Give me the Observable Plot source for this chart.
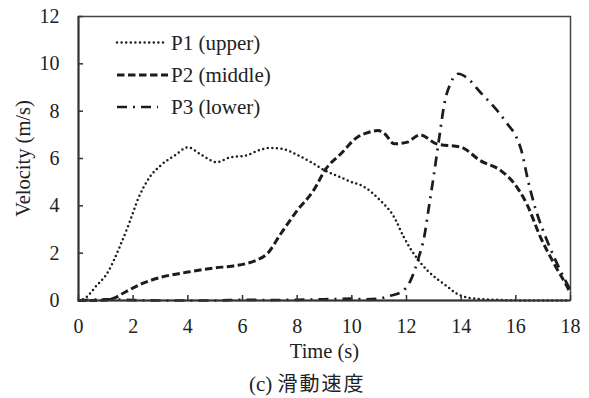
<!DOCTYPE html>
<html>
<head>
<meta charset="utf-8">
<style>
  html, body { margin: 0; padding: 0; background: #fff; }
  #wrap { position: relative; width: 589px; height: 398px; color: #222; overflow: hidden; }
  #legend { position: absolute; left: 0; top: 0; pointer-events: none; }
  #caption { position: absolute; left: 249px; top: 369px; font-size: 20px; line-height: 28px; white-space: nowrap; color: #222; }
</style>
<script src="https://cdn.jsdelivr.net/npm/d3@7"></script>
<script src="https://cdn.jsdelivr.net/npm/@observablehq/plot@0.6"></script>
</head>
<body>
<div id="wrap">
  <div id="caption"><span style="font-family:'Liberation Serif';font-size:21px">(c) </span><span style="font-family:'Noto Sans CJK JP';font-size:20px;letter-spacing:2px">滑動速度</span></div>
  <svg id="legend" width="589" height="130" xmlns="http://www.w3.org/2000/svg"></svg>
</div>
<script>
// ---- data ----
const seriesNames = ["P1 (upper)", "P2 (middle)", "P3 (lower)"];

const p1Time = [0, 0.3, 0.6, 1.1, 1.5, 1.85, 2.2, 2.6, 3.05, 3.55, 4.0, 4.5, 5.05, 5.55, 6.1, 6.6, 7.0, 7.5, 8.0, 8.5, 9.0, 9.5, 10.0, 10.35, 11.05, 11.55, 11.9, 12.27, 12.76, 13.37, 13.98, 14.6, 15.5, 16.5, 18];
const p1Vel  = [0, 0.15, 0.55, 1.25, 2.25, 3.25, 4.35, 5.2, 5.75, 6.15, 6.47, 6.15, 5.85, 6.05, 6.12, 6.35, 6.45, 6.4, 6.15, 5.85, 5.5, 5.25, 5.0, 4.86, 4.22, 3.52, 2.68, 1.97, 1.27, 0.7, 0.21, 0.07, 0.02, 0, 0];

const p2Time = [0, 0.5, 1.0, 1.3, 1.7, 2.3, 3.05, 4.0, 5.0, 5.6, 6.1, 6.5, 6.9, 7.4, 8.0, 8.6, 9.05, 9.6, 10.2, 10.6, 10.95, 11.2, 11.55, 12.0, 12.5, 13.1, 14.0, 14.7, 15.45, 15.95, 16.4, 16.9, 17.4, 17.95, 18];
const p2Vel  = [0, 0, 0.02, 0.1, 0.35, 0.7, 0.99, 1.2, 1.38, 1.45, 1.55, 1.7, 1.97, 2.82, 3.8, 4.65, 5.56, 6.2, 6.9, 7.1, 7.18, 7.05, 6.62, 6.68, 7.0, 6.62, 6.48, 5.91, 5.49, 4.93, 4.08, 2.68, 1.55, 0.42, 0.3];

const p3Time = [0, 1, 2, 3, 4, 5, 6, 7, 8, 9, 10, 10.5, 11.0, 11.4, 11.8, 12.15, 12.45, 12.65, 12.8, 13.0, 13.2, 13.4, 13.6, 13.9, 14.2, 14.7, 15.3, 15.7, 16.0, 16.2, 16.45, 16.7, 17.05, 17.4, 17.75, 18];
const p3Vel  = [0, 0.05, 0.02, 0, 0, 0, 0.03, 0.02, 0.03, 0.05, 0.08, 0.05, 0.08, 0.2, 0.35, 0.85, 1.83, 2.7, 3.8, 5.3, 6.9, 8.4, 9.15, 9.58, 9.42, 8.8, 8.05, 7.45, 6.95, 6.35, 5.05, 3.95, 2.8, 1.83, 0.99, 0.42];

const xTicks = [0, 2, 4, 6, 8, 10, 12, 14, 16, 18];
const yTicks = [0, 2, 4, 6, 8, 10, 12];
const xLabel = "Time (s)";
const yLabel = "Velocity (m/s)";

// ---- build tables ----
const toRows = (ts, vs) => ts.map((t, i) => ({t, v: vs[i]}));
const p1 = toRows(p1Time, p1Vel);
const p2 = toRows(p2Time, p2Vel);
const p3 = toRows(p3Time, p3Vel);

const ink = "#1c1c1c";
const serif = "Liberation Serif";
const styles = [
  {strokeWidth: 2.5, strokeDasharray: "0 4.6", strokeLinecap: "round"},
  {strokeWidth: 3, strokeDasharray: "7.5 3.5", strokeLinecap: "butt"},
  {strokeWidth: 2.7, strokeDasharray: "10 6 2 6", strokeLinecap: "butt"}
];

const chart = Plot.plot({
  width: 589,
  height: 365,
  marginLeft: 78,
  marginRight: 19,
  marginTop: 16,
  marginBottom: 65,
  style: {background: "#fff"},
  x: {domain: [0, 18]},
  y: {domain: [0, 12]},
  marks: [
    Plot.frame({stroke: "#444", strokeWidth: 1.5}),
    Plot.line(p1, {x: "t", y: "v", stroke: ink, curve: "monotone-x", ...styles[0]}),
    Plot.line(p2, {x: "t", y: "v", stroke: ink, curve: "monotone-x", ...styles[1]}),
    Plot.line(p3, {x: "t", y: "v", stroke: ink, curve: "monotone-x", ...styles[2]}),
    Plot.ruleX([0], {stroke: "#333", strokeWidth: 2}),
    Plot.ruleY([0], {stroke: "#333", strokeWidth: 2}),
    Plot.axisX({ticks: xTicks, tickSize: -5, tickPadding: 23, stroke: "#333", strokeWidth: 1.5,
                fontFamily: serif, fontSize: 20, fill: "#222", label: null}),
    Plot.axisX({ticks: [], label: xLabel, labelAnchor: "center", labelArrow: "none", labelOffset: 57,
                fontFamily: serif, fontSize: 20.5, fill: "#222"}),
    Plot.axisY({ticks: yTicks, tickSize: -5, tickPadding: 24, stroke: "#333", strokeWidth: 1.5,
                fontFamily: serif, fontSize: 20, fill: "#222", label: null}),
    Plot.axisY({ticks: [], label: yLabel, labelAnchor: "center", labelArrow: "none", labelOffset: 63,
                fontFamily: serif, fontSize: 20.5, fill: "#222"})
  ]
});

const wrap = document.getElementById("wrap");
wrap.insertBefore(chart, wrap.firstChild);

// ---- legend overlay ----
const ns = "http://www.w3.org/2000/svg";
const leg = document.getElementById("legend");
const rowY = [42.5, 75, 107];
const lineEnd = [163, 168, 158];
seriesNames.forEach((name, i) => {
  const ln = document.createElementNS(ns, "line");
  ln.setAttribute("x1", 117); ln.setAttribute("x2", lineEnd[i]);
  ln.setAttribute("y1", rowY[i]); ln.setAttribute("y2", rowY[i]);
  ln.setAttribute("stroke", ink);
  ln.setAttribute("stroke-width", styles[i].strokeWidth);
  ln.setAttribute("stroke-dasharray", styles[i].strokeDasharray);
  ln.setAttribute("stroke-linecap", styles[i].strokeLinecap);
  leg.appendChild(ln);
  const tx = document.createElementNS(ns, "text");
  tx.setAttribute("x", 171);
  tx.setAttribute("y", rowY[i] + 7);
  tx.setAttribute("font-size", "21");
  tx.setAttribute("font-family", serif);
  tx.setAttribute("fill", "#222");
  tx.textContent = name;
  leg.appendChild(tx);
});
</script>
</body>
</html>
